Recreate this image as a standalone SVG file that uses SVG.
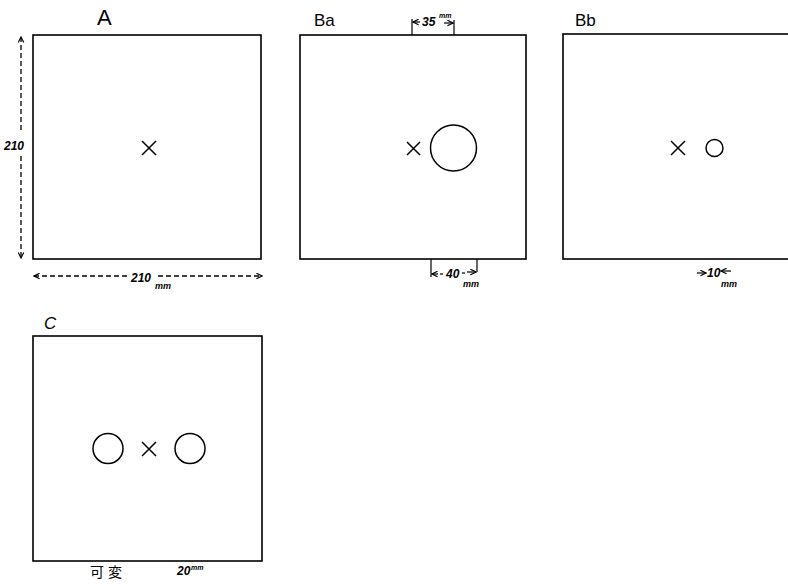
<svg xmlns="http://www.w3.org/2000/svg" width="788" height="585" viewBox="0 0 788 585">
<defs>
<style>
.frame{fill:none;stroke:#000;stroke-width:1.6}
.mark{fill:none;stroke:#000;stroke-width:1.5}
.title{font-family:"Liberation Sans",Arial,sans-serif;font-size:17px;fill:#000}
.dim{font-family:"Liberation Sans",Arial,sans-serif;font-size:12px;font-style:italic;font-weight:bold;fill:#000}
.sup{font-family:"Liberation Sans",Arial,sans-serif;font-size:7px;font-style:italic;font-weight:bold;fill:#000}
.cjk{font-family:"Liberation Sans","Noto Sans CJK JP",sans-serif;font-size:14px;letter-spacing:4px;fill:#000}
.dash{fill:none;stroke:#000;stroke-width:1.3;stroke-dasharray:5 3}
.arr{fill:none;stroke:#000;stroke-width:1.2}
.tick{fill:none;stroke:#000;stroke-width:1.2}
</style>
<marker id="ah" viewBox="0 0 10 10" refX="9" refY="5" markerWidth="7" markerHeight="7" markerUnits="userSpaceOnUse" orient="auto-start-reverse">
<polyline points="1,1 9,5 1,9" fill="none" stroke="#000" stroke-width="1.6"/>
</marker>
</defs>
<rect width="788" height="585" fill="#fff"/>

<g id="panelA">
<text class="title" x="97" y="25" style="font-size:22px">A</text>
<rect class="frame" x="33" y="35" width="228" height="224"/>
<path class="mark" d="M142,141 L156,155 M156,141 L142,155"/>
</g>

<g id="panelBa">
<text class="title" x="314" y="26">Ba</text>
<rect class="frame" x="300" y="35" width="226" height="224"/>
<path class="mark" d="M407,142 L420,155 M420,142 L407,155"/>
<circle class="mark" cx="453.5" cy="148" r="23"/>
</g>

<g id="panelBb">
<text class="title" x="575" y="26">Bb</text>
<rect class="frame" x="563" y="34" width="240" height="225"/>
<path class="mark" d="M671,141 L685,155 M685,141 L671,155"/>
<circle class="mark" cx="714.5" cy="148" r="8.5"/>
</g>

<g id="panelC">
<text class="title" x="44" y="329" style="font-style:italic">C</text>
<rect class="frame" x="33" y="336" width="229" height="225"/>
<circle class="mark" cx="108" cy="448.5" r="15"/>
<path class="mark" d="M142,442 L156,456 M156,442 L142,456"/>
<circle class="mark" cx="190" cy="448.5" r="15"/>
<text class="cjk" x="90" y="577">可変</text>
<text class="dim" x="177" y="575">20</text>
<text class="sup" x="191" y="570">mm</text>
</g>

<g id="connectors">
<!-- A vertical dimension -->
<line class="dash" x1="21" y1="37" x2="21" y2="132" marker-start="url(#ah)"/>
<line class="dash" x1="21" y1="156" x2="21" y2="258" marker-end="url(#ah)"/>
<text class="dim" x="4" y="150">210</text>
<!-- A horizontal dimension -->
<line class="dash" x1="34" y1="276" x2="128" y2="276" marker-start="url(#ah)"/>
<line class="dash" x1="158" y1="276" x2="262" y2="276" marker-end="url(#ah)"/>
<text class="dim" x="131" y="282">210</text>
<text class="dim" x="155" y="289" style="font-size:9px">mm</text>
<!-- Ba top -->
<line class="tick" x1="412" y1="19" x2="412" y2="35"/>
<line class="tick" x1="454" y1="20" x2="454" y2="35"/>
<line class="arr" x1="420" y1="22" x2="413" y2="22" marker-end="url(#ah)"/>
<text class="dim" x="422" y="26">35</text>
<text class="sup" x="439" y="18">mm</text>
<line class="arr" x1="444" y1="23" x2="453" y2="23" marker-end="url(#ah)"/>
<!-- Ba bottom -->
<line class="tick" x1="431" y1="259" x2="431" y2="277"/>
<line class="tick" x1="477" y1="259" x2="477" y2="272"/>
<line class="arr" x1="438" y1="274" x2="432" y2="274" marker-end="url(#ah)"/>
<line class="arr" x1="440" y1="274" x2="443" y2="274"/>
<text class="dim" x="446" y="278">40</text>
<line class="arr" x1="462" y1="273" x2="465" y2="273"/>
<line class="arr" x1="467" y1="272" x2="476" y2="272" marker-end="url(#ah)"/>
<text class="dim" x="463" y="287" style="font-size:9px">mm</text>
<!-- Bb bottom -->
<line class="arr" x1="697" y1="273" x2="706" y2="273" marker-end="url(#ah)"/>
<text class="dim" x="707" y="277">10</text>
<line class="arr" x1="731" y1="271" x2="721" y2="271" marker-end="url(#ah)"/>
<text class="dim" x="721" y="287" style="font-size:9px">mm</text>
</g>
</svg>
